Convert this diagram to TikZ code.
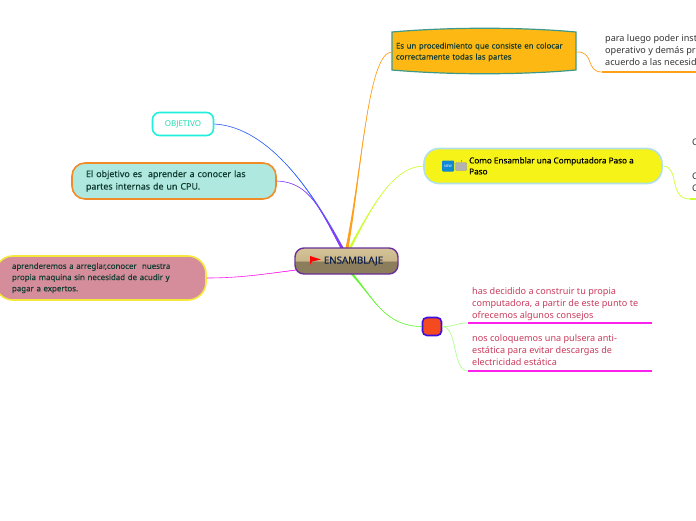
\documentclass[tikz,border=0pt]{standalone}
\usepackage{fontspec}
\setmainfont{Noto Sans}
\newfontfamily\semifont[FakeBold=0.25]{Noto Sans}
\newfontfamily\heavyfont[FakeBold=0.7]{Noto Sans}
\usetikzlibrary{calc}
\definecolor{objline}{HTML}{3366FF}
\definecolor{cpuline}{HTML}{8A3DF5}
\definecolor{pinkline}{HTML}{FF22EE}
\definecolor{orangeline}{HTML}{FF9F1A}
\definecolor{limeline}{HTML}{CCFF33}
\definecolor{greenline}{HTML}{66F533}
\definecolor{paleline}{HTML}{B0FF90}
\definecolor{darktext}{HTML}{123C32}
\definecolor{redtext}{HTML}{C8395A}
\definecolor{tanlow}{HTML}{8C7D5C}
\definecolor{tanmid}{HTML}{C8B68A}
\definecolor{tanhigh}{HTML}{E2D2A4}
\definecolor{objborder}{HTML}{1EF0DC}
\definecolor{objtext}{HTML}{1FDCB0}
\definecolor{cpufill}{HTML}{AEE8DE}
\definecolor{cpuborder}{HTML}{F08C28}
\definecolor{pinkfill}{HTML}{D58D9B}
\definecolor{pinkborder}{HTML}{F5E83C}
\definecolor{procfill}{HTML}{FDB813}
\definecolor{procborder}{HTML}{3D9A8B}
\definecolor{comofill}{HTML}{F6F318}
\definecolor{comoborder}{HTML}{B0E0E8}
\definecolor{redfill}{HTML}{F5491F}
\definecolor{redborder}{HTML}{3A10E0}
\definecolor{centreborder}{HTML}{6A2F9A}
\definecolor{centretext}{HTML}{10204A}
\pgfdeclareverticalshading{centreshade}{100bp}{
  color(0bp)=(tanlow);color(50bp)=(tanlow);
  color(50bp)=(tanmid);color(100bp)=(tanhigh)}
% tapered branch: start, two controls, end
\newcommand{\branch}[5]{%
  \fill[#1] (#2) .. controls (#3) and (#4) .. ($(#5)+(-1.5,0)$)
    -- ($(#5)+(1.5,0)$) .. controls (#4) and (#3) .. (#2);
  \draw[#1, line width=0.6pt] (#2) .. controls (#3) and (#4) .. (#5);
}
\begin{document}
\begin{tikzpicture}[x=1pt, y=-1pt,
  % base topic box
  topic/.style  = {rounded corners=13pt, line width=1.6pt, anchor=center,
                   inner xsep=0, inner ysep=0, align=left},
  % free text above an underline
  leaf/.style   = {font=\fontsize{9.1}{12}\selectfont, anchor=north west, align=left,
                   inner sep=0},
  leafred/.style= {leaf, text=redtext},
  leafgrey/.style={leaf, text=black!80},
  % underline below a leaf
  rule/.style   = {line width=1.1pt},
  % thin connector to a leaf
  twig/.style   = {line width=0.7pt},
]
\useasboundingbox (0,0) rectangle (696,520);

% ───────── anchors on the centre node
\coordinate (hubA) at (342,248);
\coordinate (hubB) at (347,248);
\coordinate (hubC) at (350,248);
\coordinate (hubD) at (352,274);
\coordinate (hubE) at (296,270);

% ───────── left side boxes
\node[topic, draw=objborder, fill=white, minimum width=61pt, minimum height=23pt,
      rounded corners=7pt, text=objtext, font=\fontsize{8}{10}\selectfont]
  (objetivo) at (183,124) {OBJETIVO};

\node[topic, draw=cpuborder, fill=cpufill, minimum width=204pt, minimum height=36pt,
      text width=176pt, text=darktext, font=\fontsize{8.9}{12.5}\semifont]
  (cpu) at (174,181) {El objetivo es\ \ aprender a conocer las\\partes internas de un CPU.};

\node[topic, draw=pinkborder, fill=pinkfill, minimum width=211pt, minimum height=44pt,
      rounded corners=18pt, text width=177pt, text=darktext,
      font=\fontsize{7.9}{11.2}\semifont]
  (arreglar) at (100.5,278) {aprenderemos a arreglar,conocer\ \ nuestra\\propia maquina sin necesidad de acudir y\\pagar a expertos.};

% ───────── orange box with bulged edges
\draw[draw=procborder, fill=procfill, line width=1.2pt]
  (392,32) .. controls (450,27) and (520,27) .. (576,32) -- (576,70)
  .. controls (520,75) and (450,75) .. (392,70) -- cycle;
\node[anchor=center, minimum width=184pt, minimum height=40pt, inner sep=0,
      text width=176pt, align=left, text=darktext, font=\fontsize{7.8}{11}\semifont]
  (proc) at (484,52) {Es un procedimiento que consiste en colocar\\correctamente todas las partes};

% ───────── yellow box, its text starts right of the icons
\node[topic, draw=comoborder, fill=comofill, minimum width=238pt, minimum height=35pt,
      rounded corners=15pt] (como) at (543,166) {};
\node[leaf, text=black, font=\fontsize{8.15}{11}\semifont] (comoText) at (469,157)
  {Como Ensamblar una Computadora Paso a\\Paso};
\node[fill=cyan!70!blue, rounded corners=1pt, minimum width=12pt, minimum height=11pt, inner sep=0,
      text=white, font=\fontsize{3.5}{4}\selectfont] (iconNew) at (448,166) {NEW};
\node[fill=gray!60, draw=gray!80, line width=0.4pt, rounded corners=1pt, minimum width=11pt, minimum height=8pt,
      inner sep=0] (iconBot) at (461,166.5) {};
\draw[gray!80, line width=0.8pt] (iconBot.north) -- ++(0,-2);

% ───────── small red box
\node[draw=redborder, fill=redfill, line width=1.6pt, rounded corners=4.5pt,
      minimum width=19pt, minimum height=18pt, inner sep=0] (redbox) at (432,326.5) {};

% ───────── branches
\branch{objline}{objetivo.east}{270,127}{315,195}{hubA}
\branch{cpuline}{cpu.east}{310,182}{320,210}{hubA}
\branch{pinkline}{arreglar.east}{240,278}{265,274}{hubE}
\branch{orangeline}{proc.west}{368,52}{362,170}{hubB}
\branch{limeline}{como.west}{395,167}{375,200}{hubC}
\branch{greenline}{redbox.west}{385,326}{375,300}{hubD}

% ───────── leaves on the right
\coordinate (procEnd) at (602,72);
\coordinate (procOut) at (696,72);
\draw[orangeline, twig] (proc.east) .. controls (595,51) and (585,72) .. (procEnd);
\draw[orangeline, rule] (procEnd) -- (procOut);
\node[leafgrey] (procText) at (605,34.5) {para luego poder inst\\operativo y demás pr\\acuerdo a las necesid};

\coordinate (comoEnd) at (690,199);
\coordinate (comoOut) at (696,199);
\draw[limeline, twig] (como.east) .. controls (680,166) and (668,199) .. (comoEnd);
\draw[limeline, rule] (comoEnd) -- (comoOut);
\node[leafgrey] (comoTextA) at (692,138.5) {C};
\node[leafgrey] (comoTextB) at (692,173) {C\\C};

\coordinate (hasStart) at (468,323);
\coordinate (hasEnd) at (652,323);
\coordinate (nosStart) at (468,371);
\coordinate (nosEnd) at (652,371);
\draw[paleline, twig] (redbox.east) .. controls (455,327) and (455,323) .. (hasStart);
\draw[paleline, twig] (redbox.east) .. controls (458,327) and (452,371) .. (nosStart);
\foreach \a/\b in {hasStart/hasEnd, nosStart/nosEnd}
  \draw[pinkline, rule] (\a) -- (\b);
\node[leafred] (hasText) at (472,287) {has decidido a construir tu propia\\computadora, a partir de este punto te\\ofrecemos algunos consejos};
\node[leafred] (nosText) at (472,334) {nos coloquemos una pulsera anti-\\estática para evitar descargas de\\electricidad estática};

% ───────── centre node on top of the branches
\node[topic, draw=centreborder, shading=centreshade, minimum width=103pt, minimum height=26pt,
      rounded corners=9pt, line width=1.4pt, text=centretext,
      font=\fontsize{9.7}{11}\heavyfont] (centre) at (346.5,261) {\hspace*{14pt}ENSAMBLAJE};
\fill[red] (310,256) -- (321,259.5) -- (312,261.5) -- (310,265) -- cycle;

\end{tikzpicture}
\end{document}
